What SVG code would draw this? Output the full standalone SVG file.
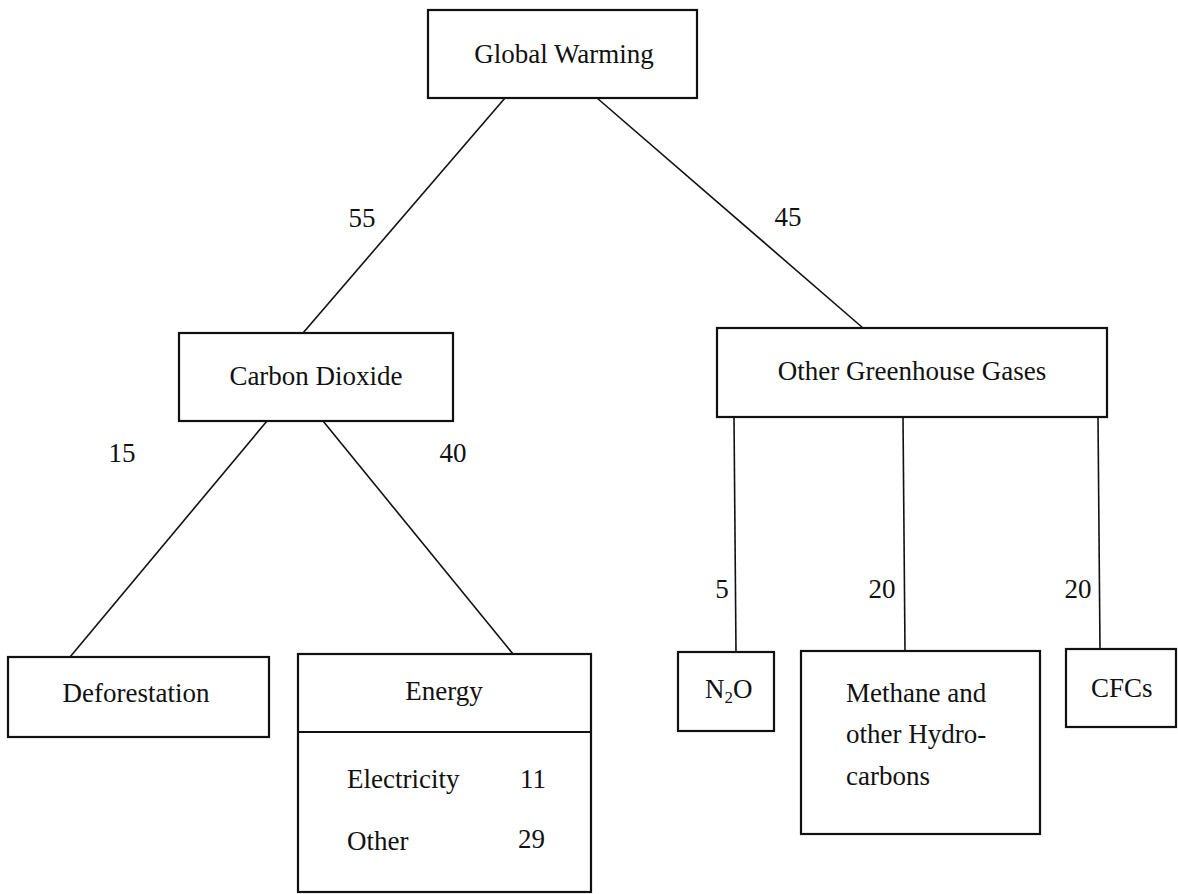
<svg xmlns="http://www.w3.org/2000/svg" width="1178" height="894" viewBox="0 0 1178 894">
<style>
.box{fill:#fff;stroke:#111;stroke-width:2.2}
.ln{stroke:#111;stroke-width:1.6;fill:none}
text{font-family:"Liberation Serif","Times New Roman",serif;font-size:27px;fill:#111}
.c{text-anchor:middle}
</style>
<rect width="1178" height="894" fill="#fff"/>
<g id="connectors">
<line class="ln" x1="505" y1="98" x2="303" y2="333"/>
<line class="ln" x1="597" y1="98" x2="863" y2="328"/>
<line class="ln" x1="267" y1="421" x2="70" y2="657"/>
<line class="ln" x1="323" y1="421" x2="513" y2="654"/>
<line class="ln" x1="734" y1="417" x2="736" y2="652"/>
<line class="ln" x1="903" y1="417" x2="905" y2="651"/>
<line class="ln" x1="1098" y1="417" x2="1100" y2="649"/>
<text class="c" x="362" y="227">55</text>
<text class="c" x="788" y="226">45</text>
<text class="c" x="122" y="462">15</text>
<text class="c" x="453" y="462">40</text>
<text class="c" x="722" y="598">5</text>
<text class="c" x="882" y="598">20</text>
<text class="c" x="1078" y="598">20</text>
</g>
<g id="global-warming">
<rect class="box" x="428" y="10" width="269" height="88"/>
<text class="c" x="564" y="63">Global Warming</text>
</g>
<g id="carbon-dioxide">
<rect class="box" x="179" y="333" width="274" height="88"/>
<text class="c" x="316" y="385">Carbon Dioxide</text>
</g>
<g id="other-greenhouse-gases">
<rect class="box" x="717" y="328" width="390" height="89"/>
<text class="c" x="912" y="380">Other Greenhouse Gases</text>
</g>
<g id="deforestation">
<rect class="box" x="8" y="657" width="261" height="80"/>
<text class="c" x="136" y="702">Deforestation</text>
</g>
<g id="energy">
<rect class="box" x="298" y="654" width="293" height="238"/>
<line class="ln" x1="298" y1="732" x2="591" y2="732" style="stroke-width:2.2"/>
<text class="c" x="444" y="700">Energy</text>
<text x="347" y="788">Electricity</text>
<text x="520" y="788">11</text>
<text x="347" y="850">Other</text>
<text x="518" y="848">29</text>
</g>
<g id="n2o">
<rect class="box" x="678" y="652" width="96" height="79"/>
<text x="705" y="698">N<tspan font-size="17" dy="5">2</tspan><tspan dy="-5">O</tspan></text>
</g>
<g id="methane">
<rect class="box" x="801" y="651" width="239" height="183"/>
<text x="846" y="702">Methane and</text>
<text x="846" y="743">other Hydro-</text>
<text x="846" y="785">carbons</text>
</g>
<g id="cfcs">
<rect class="box" x="1066" y="649" width="110" height="78"/>
<text x="1091" y="697">CFCs</text>
</g>
</svg>
